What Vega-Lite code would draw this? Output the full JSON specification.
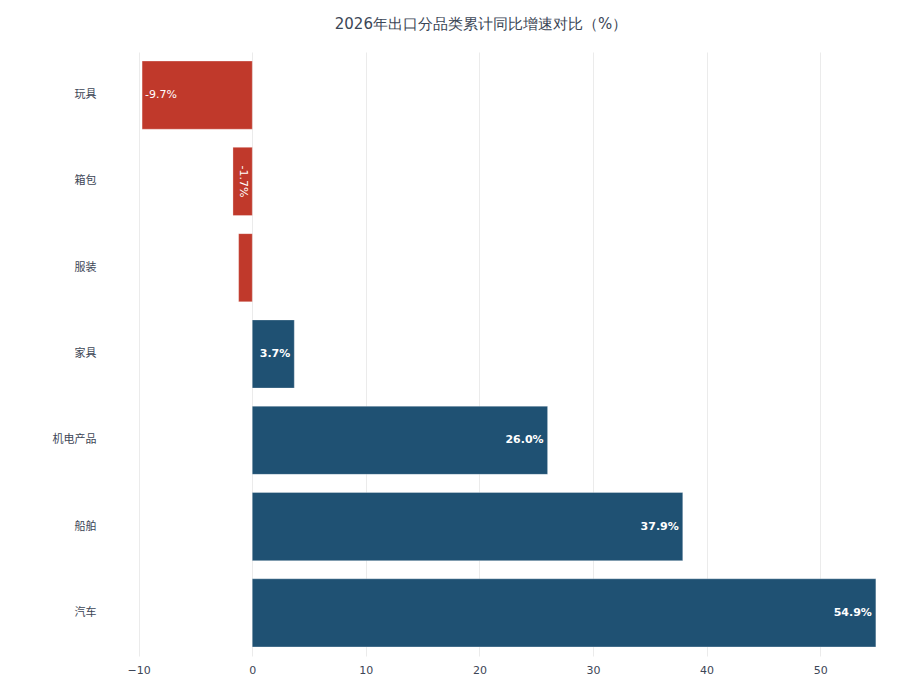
{
  "$schema": "https://vega.github.io/schema/vega-lite/v6.json",
  "autosize": {"type": "none"},
  "width": 744,
  "height": 604,
  "padding": {"left": 133, "top": 52, "right": 23, "bottom": 29},
  "background": "white",
  "config": {
    "font": "DejaVu Sans",
    "view": {"stroke": null}
  },
  "title": {
    "text": "2026年出口分品类累计同比增速对比（%）",
    "font": "DejaVu Sans",
    "fontSize": 15,
    "fontWeight": "normal",
    "color": "#3b4656",
    "anchor": "middle",
    "dx": -24,
    "offset": 20
  },
  "data": {
    "values": [
      {"category": "玩具", "value": -9.7, "label": "-9.7%"},
      {"category": "箱包", "value": -1.7, "label": "-1.7%"},
      {"category": "服装", "value": -1.2, "label": ""},
      {"category": "家具", "value": 3.7, "label": "3.7%"},
      {"category": "机电产品", "value": 26.0, "label": "26.0%"},
      {"category": "船舶", "value": 37.9, "label": "37.9%"},
      {"category": "汽车", "value": 54.9, "label": "54.9%"}
    ]
  },
  "encoding": {
    "y": {
      "field": "category",
      "type": "nominal",
      "sort": null,
      "scale": {"paddingInner": 0.21, "paddingOuter": 0.105},
      "axis": {
        "title": null,
        "domain": false,
        "ticks": false,
        "labelPadding": 37,
        "labelFont": "Noto Sans CJK SC",
        "labelFontSize": 11,
        "labelColor": "#3d4656",
        "grid": false
      }
    }
  },
  "layer": [
    {
      "mark": {"type": "bar", "stroke": "#ffffff", "strokeWidth": 0.5, "strokeOpacity": 0.6},
      "encoding": {
        "x": {
          "field": "value",
          "type": "quantitative",
          "scale": {"domain": [-10.5, 55], "nice": false, "zero": false},
          "axis": {
            "title": null,
            "values": [-10, 0, 10, 20, 30, 40, 50],
            "domain": false,
            "ticks": false,
            "labelPadding": 8,
            "labelFontSize": 11,
            "labelColor": "#3d4656",
            "gridColor": "#ebebeb",
            "gridWidth": 1
          }
        },
        "color": {
          "condition": {"test": "datum.value < 0", "value": "#c0392b"},
          "value": "#1f5173"
        }
      }
    },
    {
      "transform": [{"filter": "datum.value > 0"}],
      "mark": {"type": "text", "align": "right", "baseline": "middle", "dx": -4, "fontSize": 11, "fontWeight": "bold", "color": "#ffffff"},
      "encoding": {
        "x": {"field": "value", "type": "quantitative"},
        "text": {"field": "label"}
      }
    },
    {
      "transform": [{"filter": "datum.category == '玩具'"}],
      "mark": {"type": "text", "align": "left", "baseline": "middle", "dx": 3, "fontSize": 11, "color": "#ffffff"},
      "encoding": {
        "x": {"field": "value", "type": "quantitative"},
        "text": {"field": "label"}
      }
    },
    {
      "transform": [{"filter": "datum.category == '箱包'"}],
      "mark": {"type": "text", "align": "center", "baseline": "middle", "angle": 90, "dy": -9.7, "fontSize": 11, "color": "#ffffff"},
      "encoding": {
        "x": {"field": "value", "type": "quantitative"},
        "text": {"field": "label"}
      }
    }
  ]
}
